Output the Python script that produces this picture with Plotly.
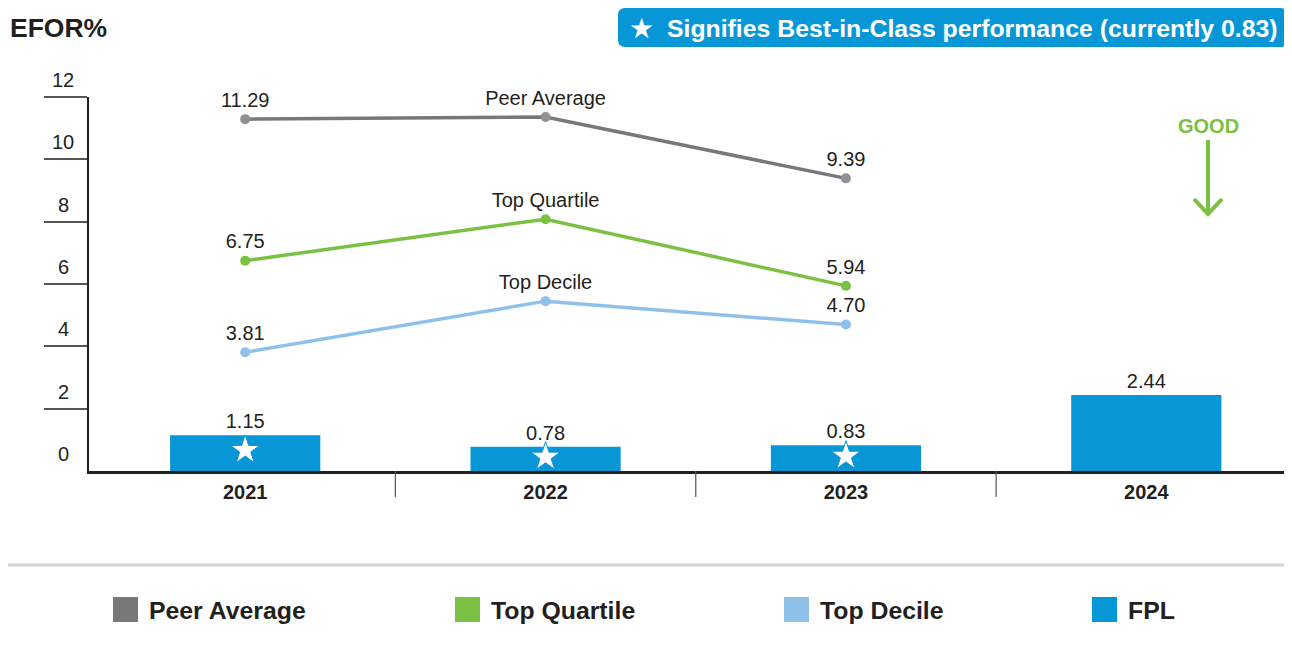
import plotly.graph_objects as go

# data
years = ["2021", "2022", "2023", "2024"]
peer_avg = [11.29, 11.36, 9.39]
top_quartile = [6.75, 8.08, 5.94]
top_decile = [3.81, 5.45, 4.70]
fpl = [1.15, 0.78, 0.83, 2.44]
best_in_class = [True, True, True, False]
y_ticks = [0, 2, 4, 6, 8, 10, 12]

peer_text = ["11.29", "Peer Average", "9.39"]
quart_text = ["6.75", "Top Quartile", "5.94"]
decile_text = ["3.81", "Top Decile", "4.70"]

# colours
GRAY = "#77787b"
GREEN = "#7ac143"
LIGHT_BLUE = "#8fc0e9"
BLUE = "#0897d6"
DARK = "#231f20"
FONT = "Liberation Sans, Arial, Helvetica, sans-serif"

# page body has an 8px margin, so the figure is a bit smaller than the window
OFF = 8
W, H = 1292 - OFF, 648 - 2 * OFF
L, R, T, B = 89 - OFF, 0, 97 - OFF, 471 - OFF


def fx(px):
    # px measured in window pixels
    return (px - OFF - L) / (W - L - R)


def fy(py):
    return (B - (py - OFF)) / (B - T)


xi = list(range(len(years)))

fig = go.Figure()

fig.add_trace(go.Bar(
    x=xi, y=fpl, width=0.5, marker=dict(color=BLUE, line=dict(width=0)),
    text=[f"{v:.2f}" for v in fpl], textposition="outside",
    textfont=dict(size=20, color=DARK, family=FONT), cliponaxis=False,
    showlegend=False,
))

# best-in-class stars
star_x = [i for i, b in zip(xi, best_in_class) if b]
star_y = [fpl[i] * 0.58 for i in star_x]
fig.add_trace(go.Scatter(
    x=star_x, y=star_y, mode="markers",
    marker=dict(symbol="star", size=22, color="white", line=dict(color=BLUE, width=1)),
    cliponaxis=False, showlegend=False,
))

for vals, txt, col, mcol in [
    (peer_avg, peer_text, GRAY, "#8d9297"),
    (top_quartile, quart_text, GREEN, GREEN),
    (top_decile, decile_text, LIGHT_BLUE, LIGHT_BLUE),
]:
    fig.add_trace(go.Scatter(
        x=xi[:3], y=vals, mode="lines+markers+text",
        line=dict(color=col, width=3.5),
        marker=dict(color=mcol, size=10),
        text=txt, textposition="top center",
        textfont=dict(size=20, color=DARK, family=FONT),
        cliponaxis=False, showlegend=False,
    ))

shapes = []
# category separators below the axis
for s in [0.5, 1.5, 2.5]:
    shapes.append(dict(type="line", xref="x", yref="paper", x0=s, x1=s,
                       y0=0, y1=fy(497), line=dict(color="#555555", width=1.2)))
# gray rule above legend
shapes.append(dict(type="line", xref="paper", yref="paper", x0=fx(0), x1=fx(1292),
                   y0=fy(565), y1=fy(565), line=dict(color="#d1d3d4", width=3)))

# badge (rounded rectangle)
bx0, bx1, by0, by1, rr = 618, 1287, 8, 47, 7
path = (f"M {fx(bx0 + rr)},{fy(by0)} L {fx(bx1 - rr)},{fy(by0)} "
        f"Q {fx(bx1)},{fy(by0)} {fx(bx1)},{fy(by0 + rr)} "
        f"L {fx(bx1)},{fy(by1 - rr)} Q {fx(bx1)},{fy(by1)} {fx(bx1 - rr)},{fy(by1)} "
        f"L {fx(bx0 + rr)},{fy(by1)} Q {fx(bx0)},{fy(by1)} {fx(bx0)},{fy(by1 - rr)} "
        f"L {fx(bx0)},{fy(by0 + rr)} Q {fx(bx0)},{fy(by0)} {fx(bx0 + rr)},{fy(by0)} Z")
shapes.append(dict(type="path", xref="paper", yref="paper", path=path,
                   fillcolor=BLUE, line=dict(width=0)))

# GOOD arrow
shapes.append(dict(type="line", xref="paper", yref="paper", x0=fx(1208), x1=fx(1208),
                   y0=fy(140), y1=fy(214), line=dict(color=GREEN, width=4)))
shapes.append(dict(type="path", xref="paper", yref="paper",
                   path=f"M {fx(1194)},{fy(199)} L {fx(1208)},{fy(214)} L {fx(1222)},{fy(199)}",
                   line=dict(color=GREEN, width=4)))

# legend squares
legend_items = [("Peer Average", GRAY, 113), ("Top Quartile", GREEN, 455),
                ("Top Decile", LIGHT_BLUE, 784), ("FPL", BLUE, 1092)]
annotations = []
for name, col, lx in legend_items:
    shapes.append(dict(type="rect", xref="paper", yref="paper", x0=fx(lx), x1=fx(lx + 25),
                       y0=fy(597), y1=fy(622), fillcolor=col, line=dict(width=0)))
    annotations.append(dict(xref="paper", yref="paper", x=fx(lx + 34), y=fy(610),
                            xanchor="left", yanchor="middle", showarrow=False,
                            text=f"<b>{name}</b>", font=dict(size=24.8, color=DARK, family=FONT)))

# y tick labels sitting above the tick lines
for v in y_ticks:
    annotations.append(dict(xref="paper", yref="y", x=fx(63), y=v, yshift=17,
                            xanchor="center", yanchor="middle", showarrow=False,
                            text=str(v), font=dict(size=20, color=DARK, family=FONT)))

annotations += [
    dict(xref="paper", yref="paper", x=fx(8), y=fy(28), xanchor="left", yanchor="middle",
         showarrow=False, text="<b>EFOR%</b>", font=dict(size=26.5, color=DARK, family=FONT)),
    dict(xref="paper", yref="paper", x=fx(641), y=fy(29), xanchor="center", yanchor="middle",
         showarrow=False, text="★", font=dict(size=28, color="white", family="DejaVu Sans")),
    dict(xref="paper", yref="paper", x=fx(665), y=fy(29), xanchor="left", yanchor="middle",
         showarrow=False, text="<b>Signifies Best-in-Class performance (currently 0.83)</b>",
         font=dict(size=24.8, color="white", family=FONT)),
    dict(xref="paper", yref="paper", x=fx(1208), y=fy(126), xanchor="center", yanchor="middle",
         showarrow=False, text="<b>GOOD</b>", font=dict(size=20, color=GREEN, family=FONT)),
]

fig.update_layout(
    width=W, height=H,
    margin=dict(l=L, r=R, t=T, b=H - B, pad=0),
    plot_bgcolor="white", paper_bgcolor="white",
    font=dict(family=FONT, color=DARK),
    showlegend=False,
    shapes=shapes, annotations=annotations,
    xaxis=dict(
        range=[-0.52, 3.485], tickvals=xi, ticktext=[f"<b>{y}</b>" for y in years],
        tickfont=dict(size=20, color=DARK, family=FONT),
        ticks="outside", ticklen=1, tickcolor="rgba(0,0,0,0)",
        showline=True, linecolor=DARK, linewidth=3, showgrid=False, zeroline=False,
    ),
    yaxis=dict(
        range=[0, 12], tickvals=y_ticks[1:], showticklabels=False,
        ticks="outside", ticklen=43, tickwidth=1.5, tickcolor="#555555",
        showline=True, linecolor=DARK, linewidth=2, showgrid=False, zeroline=False,
    ),
)

fig.write_html("out.html")
